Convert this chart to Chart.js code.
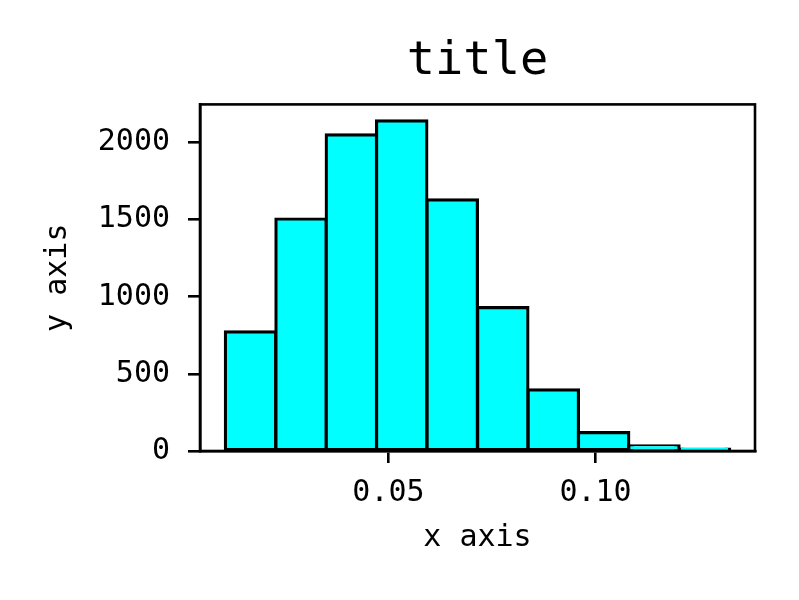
<!DOCTYPE html>
<html>
<head>
<meta charset="utf-8">
<script src="https://cdn.jsdelivr.net/npm/chart.js@4"></script>
<style>
  body { margin: 0; background: #fff; }
  #wrap { width: 799px; height: 600px; }
</style>
</head>
<body>
<div id="wrap"><canvas id="myChart" width="799" height="600"></canvas></div>
<script>
// границы интервалов гистограммы
const binEdges = [0.0106, 0.0228, 0.0350, 0.0471, 0.0593, 0.0715, 0.0837, 0.0959, 0.1080, 0.1202, 0.1324];
// количество в каждом интервале
const counts = [772, 1504, 2049, 2140, 1628, 929, 396, 119, 34, 12];
// подписи осей
const xTicks = [0.05, 0.10];
const yTicks = [0, 500, 1000, 1500, 2000];

const titleText = 'title';
const xLabel = 'x axis';
const yLabel = 'y axis';

const FONT = '"DejaVu Sans Mono", "Liberation Mono", monospace';

// точки для баров: центр интервала
const points = counts.map((c, i) => ({ x: (binEdges[i] + binEdges[i + 1]) / 2, y: c }));

// рамка вокруг области графика
const frame = {
    id: 'frame',
    afterDraw(chart) {
        const a = chart.chartArea;
        const ctx = chart.ctx;
        ctx.save();
        ctx.strokeStyle = '#000';
        ctx.lineWidth = 2.6;
        ctx.strokeRect(a.left, a.top, a.right - a.left, a.bottom - a.top);
        ctx.restore();
    }
};

const ctx = document.getElementById('myChart').getContext('2d');
new Chart(ctx, {
    type: 'bar',
    data: {
        datasets: [{
            data: points,
            backgroundColor: '#00ffff',
            borderColor: '#000',
            borderWidth: 3.2,
            borderSkipped: false,
            inflateAmount: 1.6,
            barPercentage: 1,
            categoryPercentage: 1
        }]
    },
    options: {
        responsive: false,
        animation: false,
        layout: { padding: { left: 40, right: 44, top: 0, bottom: 0 } },
        plugins: {
            legend: { display: false },
            tooltip: { enabled: false },
            title: {
                display: true,
                fullSize: false,
                text: titleText,
                color: '#000',
                font: { family: FONT, size: 47, weight: 'normal' },
                padding: { top: 34, bottom: 14 }
            }
        },
        scales: {
            x: {
                type: 'linear',
                offset: false,
                min: 0.0045,
                max: 0.1385,
                afterBuildTicks: s => { s.ticks = xTicks.map(v => ({ value: v })); },
                afterFit: s => { s.height = 149; },
                ticks: {
                    color: '#000',
                    font: { family: FONT, size: 30 },
                    padding: 12,
                    maxRotation: 0,
                    callback: v => v.toFixed(2)
                },
                grid: {
                    offset: false,
                    drawOnChartArea: false,
                    drawTicks: true,
                    tickLength: 12,
                    color: '#000',
                    lineWidth: 2.6
                },
                border: { display: true, color: '#000', width: 2.6 },
                title: {
                    display: true,
                    text: xLabel,
                    color: '#000',
                    font: { family: FONT, size: 30 },
                    padding: { top: 0, bottom: 44 }
                }
            },
            y: {
                min: 0,
                max: 2247,
                afterBuildTicks: s => { s.ticks = yTicks.map(v => ({ value: v })); },
                afterFit: s => { s.width = 160; },
                ticks: {
                    color: '#000',
                    font: { family: FONT, size: 30 },
                    padding: 18,
                    callback: v => String(v)
                },
                grid: {
                    drawOnChartArea: false,
                    drawTicks: true,
                    tickLength: 12,
                    color: '#000',
                    lineWidth: 2.6
                },
                border: { display: true, color: '#000', width: 2.6 },
                title: {
                    display: true,
                    text: yLabel,
                    color: '#000',
                    font: { family: FONT, size: 30 },
                    padding: 0
                }
            }
        }
    },
    plugins: [frame]
});
</script>
</body>
</html>
